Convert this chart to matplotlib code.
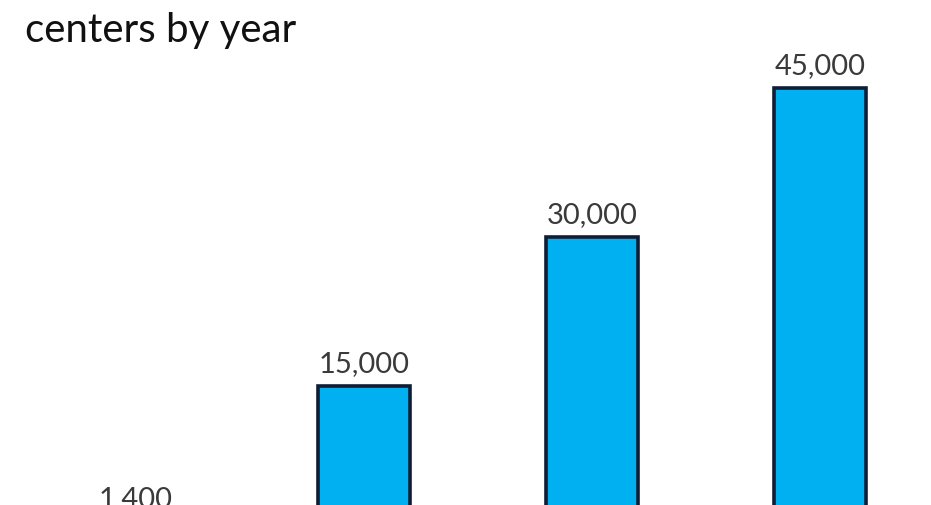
import matplotlib
matplotlib.use("Agg")
import matplotlib.pyplot as plt

years = ["Year 1", "Year 2", "Year 3", "Year 4"]
values = [1400, 15000, 30000, 45000]
labels = ["1,400", "15,000", "30,000", "45,000"]
title_visible = "centers by year"

plt.rcParams['font.family'] = ['Lato', 'DejaVu Sans']

fig = plt.figure(figsize=(9.31, 5.06), dpi=100)
ax = fig.add_axes([0, -30/506, 1, 0.9816])
x = list(range(len(values)))
ax.bar(x, values, width=0.40, color="#00B0F0", edgecolor="#0F1E36", linewidth=2.6)
for xi, v, lab in zip(x, values, labels):
    ax.annotate(lab, (xi, v), xytext=(0, 7), textcoords="offset points",
                ha="center", va="bottom", fontsize=21, color="#3a3a3a")
ax.set_xlim(-0.5965, 3.4868)
ax.set_ylim(0, 50000)
ax.axis("off")
fig.text(25/931, 1 - 42/506, title_visible, fontsize=29, color="#111111",
         ha="left", va="baseline")
fig.savefig("out.png", dpi=100)
